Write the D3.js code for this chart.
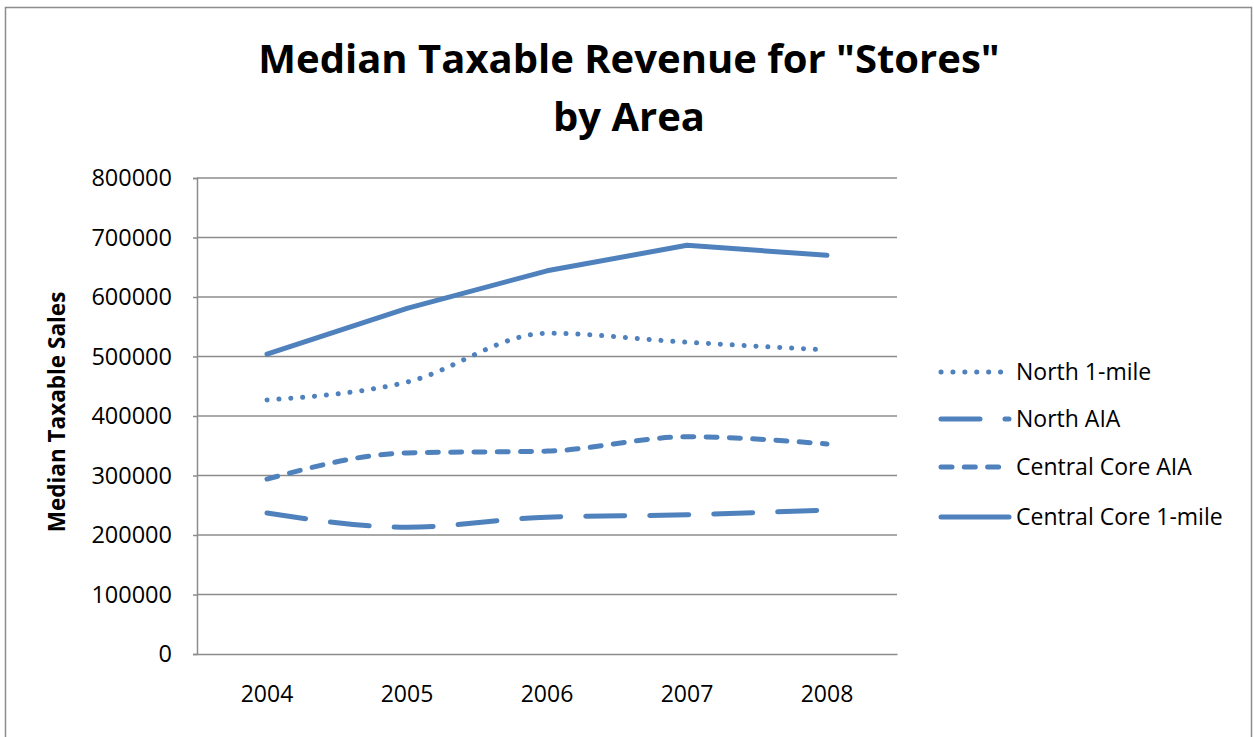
<!DOCTYPE html>
<html>
<head>
<meta charset="utf-8">
<script src="https://cdn.jsdelivr.net/npm/d3@7"></script>
<style>
  html, body { margin: 0; padding: 0; background: #fff; }
  svg { display: block; font-family: "Open Sans", "Noto Sans", sans-serif; }
</style>
</head>
<body>
<svg id="chart" width="1254" height="737"></svg>
<script>
// Median taxable sales by area, 2004–2008
const years = ["2004", "2005", "2006", "2007", "2008"];
const yTicks = [0, 100000, 200000, 300000, 400000, 500000, 600000, 700000, 800000];

const north1Mile = [427000, 457000, 539000, 524000, 511000];
const northAIA = [237000, 213000, 230000, 234000, 242000];
const centralCoreAIA = [294000, 338000, 341000, 365000, 353000];
const centralCore1Mile = [504000, 581000, 644000, 687000, 670000];

const seriesNames = ["North 1-mile", "North AIA", "Central Core AIA", "Central Core 1-mile"];
const seriesValues = [north1Mile, northAIA, centralCoreAIA, centralCore1Mile];

const color = "#4F81BD";
const gridColor = "#8c8c8c";

const series = seriesNames.map((name, i) => ({
  name,
  values: seriesValues[i],
  dash: ["0.1 11.8", "39 25", "11 12.3", null][i],
  smooth: i < 3
}));

const svg = d3.select("#chart");
const W = 1254, H = 737;

// outer chart frame
svg.append("rect")
  .attr("x", 5.5).attr("y", 7.5)
  .attr("width", W - 5.5 - 2.5).attr("height", H)
  .attr("fill", "#fff").attr("stroke", "#8c8c8c").attr("stroke-width", 1.5);

const plot = { left: 197, right: 897, top: 178, bottom: 654 };

const x = d3.scaleBand().domain(years).range([plot.left, plot.right]);
const y = d3.scaleLinear().domain([0, 800000]).range([plot.bottom, plot.top]);

// horizontal gridlines
svg.append("g")
  .selectAll("line")
  .data(yTicks.filter(d => d > 0))
  .join("line")
  .attr("x1", plot.left).attr("x2", plot.right)
  .attr("y1", d => y(d)).attr("y2", d => y(d))
  .attr("stroke", gridColor).attr("stroke-width", 1.5);

// y axis
const yAxis = svg.append("g")
  .attr("transform", `translate(${plot.left},0)`)
  .call(d3.axisLeft(y).tickValues(yTicks).tickSize(4).tickPadding(21).tickFormat(d3.format("d")));
yAxis.select(".domain").attr("stroke", gridColor).attr("stroke-width", 1.5);
yAxis.selectAll(".tick line").attr("stroke", gridColor).attr("stroke-width", 1.5);
yAxis.selectAll(".tick text")
  .attr("font-size", 23.5).attr("fill", "#000")
  .attr("font-family", "Open Sans, sans-serif");

// x axis
const xAxis = svg.append("g")
  .attr("transform", `translate(0,${plot.bottom})`)
  .call(d3.axisBottom(x).tickSize(0).tickPadding(32));
xAxis.select(".domain").attr("stroke", gridColor).attr("stroke-width", 1.5);
xAxis.selectAll(".tick text")
  .attr("font-size", 23).attr("fill", "#000")
  .attr("font-family", "Open Sans, sans-serif");

// series lines
const cx = d => x(d) + x.bandwidth() / 2;
series.forEach(s => {
  const line = d3.line()
    .x((v, i) => cx(years[i]))
    .y(v => y(v))
    .curve(s.smooth ? d3.curveMonotoneX : d3.curveLinear);
  svg.append("path")
    .datum(s.values)
    .attr("d", line)
    .attr("fill", "none")
    .attr("stroke", color)
    .attr("stroke-width", 5)
    .attr("stroke-linecap", "round")
    .attr("stroke-linejoin", "round")
    .attr("stroke-dasharray", s.dash);
});

// legend
const legend = svg.append("g");
const legendY = [372, 419, 467, 517];
series.forEach((s, i) => {
  const g = legend.append("g").attr("transform", `translate(0,${legendY[i]})`);
  g.append("line")
    .attr("x1", 941).attr("x2", 1009)
    .attr("stroke", color).attr("stroke-width", 5)
    .attr("stroke-linecap", "round")
    .attr("stroke-dasharray", s.dash);
  g.append("text")
    .attr("x", 1016).attr("y", 0).attr("dy", "0.35em")
    .attr("font-size", 23).attr("fill", "#000")
    .text(s.name);
});

// y axis title
svg.append("text")
  .attr("transform", "translate(57,412) rotate(-90)")
  .attr("text-anchor", "middle").attr("dy", "0.35em")
  .attr("font-size", 22.5).attr("font-weight", "bold")
  .text("Median Taxable Sales");

// chart title
const title = svg.append("text")
  .attr("text-anchor", "middle")
  .attr("font-size", 40).attr("font-weight", "bold");
title.append("tspan").attr("x", 629).attr("y", 73).text('Median Taxable Revenue for "Stores"');
title.append("tspan").attr("x", 629).attr("y", 131).text("by Area");
</script>
</body>
</html>
